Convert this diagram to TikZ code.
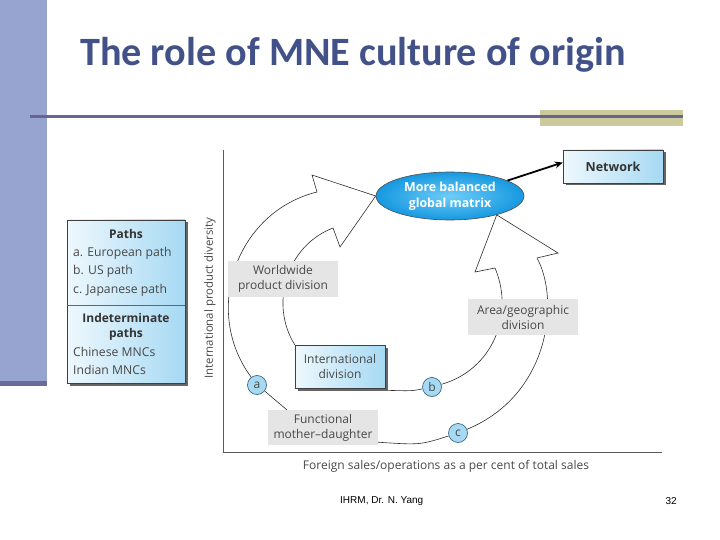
\documentclass[tikz,border=0pt]{standalone}
\usepackage{fontspec}
\setmainfont{Open Sans}
\newfontfamily\titlefont{Carlito}
\newfontfamily\footfont{Liberation Sans}
\usetikzlibrary{shapes.geometric,shadows,backgrounds,arrows.meta}

\definecolor{barblue}{RGB}{150,164,207}
\definecolor{bardark}{RGB}{104,108,150}
\definecolor{rulecol}{RGB}{102,102,145}
\definecolor{olivecol}{RGB}{204,202,156}
\definecolor{titlecol}{RGB}{66,82,136}
\definecolor{boxgray}{RGB}{229,229,229}
\definecolor{txtgray}{RGB}{72,72,72}
\definecolor{lightbl}{RGB}{238,248,253}
\definecolor{midbl}{RGB}{166,217,243}
\definecolor{ellout}{RGB}{22,152,224}
\definecolor{ellin}{RGB}{110,205,248}
\definecolor{circfill}{RGB}{166,217,242}
\definecolor{circline}{RGB}{45,85,115}
\definecolor{linecol}{RGB}{45,45,45}
\definecolor{axiscol}{RGB}{90,90,90}

\begin{document}
\begin{tikzpicture}[x=1pt,y=-1pt,
  graybox/.style={rectangle, fill=boxgray, minimum width=110pt, minimum height=36pt,
    inner sep=0pt, align=center, font=\fontsize{12}{15}\selectfont, text=txtgray},
  bluebox/.style={rectangle, draw=black!75, line width=0.6pt, left color=lightbl,
    right color=midbl, drop shadow={shadow xshift=2.5pt, shadow yshift=-2.5pt,
    fill=black!60, opacity=1}, inner sep=0pt, align=center},
  letter/.style={circle, draw=circline, line width=0.6pt, fill=circfill, minimum size=19pt,
    inner sep=0pt, font=\fontsize{12}{13}\selectfont, text=txtgray},
  curve/.style={draw=linecol, line width=0.6pt},
  legtxt/.style={font=\fontsize{12.2}{14}\selectfont, text=txtgray, inner sep=0pt},
  legbold/.style={font=\bfseries\fontsize{12}{14}\selectfont, text=black!80, inner sep=0pt},
  axis/.style={draw=axiscol, line width=0.8pt}
]
\useasboundingbox (0,0) rectangle (720,540);

% slide decoration
\fill[barblue] (0,0) rectangle (47,383);
\fill[bardark] (0,381) rectangle (47,386);
\fill[olivecol] (540,110) rectangle (683,126);
\fill[rulecol] (30,115.5) rectangle (683,118.5);
\node[anchor=base west, inner sep=0pt, text=titlecol, font=\titlefont\bfseries\fontsize{40.2}{44}\selectfont] (title) at (80,65.5) {The role of MNE culture of origin};

% axes
\coordinate (ytop) at (223,150);
\coordinate (orig) at (223,452);
\coordinate (xend) at (662,452);
\draw[axis] (ytop) -- (orig) -- (xend);
\node[rotate=90, font=\fontsize{11.4}{13}\selectfont, text=txtgray, inner sep=0pt] (ylab) at (210,298) {International product diversity};
\node[font=\fontsize{12}{13}\selectfont, text=txtgray, inner sep=0pt] (xlab) at (446,466) {Foreign sales/operations as a per cent of total sales};

% legend
\node[bluebox, minimum width=118pt, minimum height=163pt] (legend) at (126,301.5) {};
\draw[draw=black!60, line width=0.6pt] (legend.west |- 0,305) -- (legend.east |- 0,305);
\node[legbold] (lp) at (126,234) {Paths};
\node[legtxt, anchor=west] (l1) at (73,253) {a. European path};
\node[legtxt, anchor=west] (l2) at (73,271) {b. US path};
\node[legtxt, anchor=west] (l3) at (73,290) {c. Japanese path};
\node[legbold] (li1) at (126,318) {Indeterminate};
\node[legbold] (li2) at (126,334) {paths};
\node[legtxt, anchor=west] (l4) at (73,352) {Chinese MNCs};
\node[legtxt, anchor=west] (l5) at (73,370) {Indian MNCs};

% main nodes
\node[ellipse, draw=black!70, line width=0.6pt, inner color=ellin, outer color=ellout,
  minimum width=148pt, minimum height=48pt, inner sep=0pt, align=center, text=white,
  font=\bfseries\fontsize{12.4}{16}\selectfont] (gm) at (450,196) {More balanced\\global matrix};
\node[bluebox, minimum width=100pt, minimum height=33pt, text=black!80,
  font=\bfseries\fontsize{12.5}{14}\selectfont] (net) at (613,166.5) {Network};
\node[graybox] (ww) at (283,279) {Worldwide\\product division};
\node[graybox] (area) at (523,317) {Area/geographic\\division};
\node[bluebox, minimum width=90pt, minimum height=43pt, text=txtgray,
  font=\fontsize{12}{15}\selectfont] (intl) at (340,366.5) {International\\division};
\node[graybox, minimum height=35pt] (func) at (323,427.5) {Functional\\mother--daughter};
\node[letter] (a) at (257,385) {a};
\node[letter] (b) at (432,387) {b};
\node[letter] (c) at (458,433) {c};

% arrowheads
\coordinate (no1) at (317,192);
\coordinate (bo1) at (312,175);
\coordinate (bi1) at (340,247);
\coordinate (ni1) at (333,228);
\coordinate (ni2) at (495,268);
\coordinate (bi2) at (475,272);
\coordinate (bo2) at (558,253);
\coordinate (no2) at (537,258);
\draw[curve, line join=miter] (no1) -- (bo1) -- (gm.west) -- (bi1) -- (ni1);
\draw[curve, line join=miter] (ni2) -- (bi2) -- (gm.338) -- (bo2) -- (no2);

\draw[-{Stealth[length=8pt,width=7pt]}, line width=1.8pt] (gm.15) -- ([yshift=4pt]net.west);

\begin{pgfonlayer}{background}
\coordinate (fa) at ([xshift=19pt]func.north west);
\draw[curve] (fa) .. controls (276,400) .. (a);
\draw[curve] (a) .. controls (202,311) and (236,212) .. (no1);
\draw[curve] (intl.north west) .. controls (269.5,304.5) and (286,246) .. (ni1);
\draw[curve] ([yshift=-2pt]intl.south east) .. controls (412,391) .. (b);
\draw[curve] (b) .. controls (492,370) and (515,315.5) .. (ni2);
\draw[curve] ([yshift=3pt]func.south east) .. controls (420,445) .. (c);
\draw[curve] (c) .. controls (550,395) and (560,300) .. (no2);
\end{pgfonlayer}

% footer
\node[font=\footfont\fontsize{10}{12}\selectfont, anchor=west, inner sep=0pt] (foot) at (340,501) {IHRM, Dr. N. Yang};
\node[font=\footfont\fontsize{10}{12}\selectfont, anchor=east, inner sep=0pt] (page) at (677,501) {32};
\end{tikzpicture}
\end{document}
